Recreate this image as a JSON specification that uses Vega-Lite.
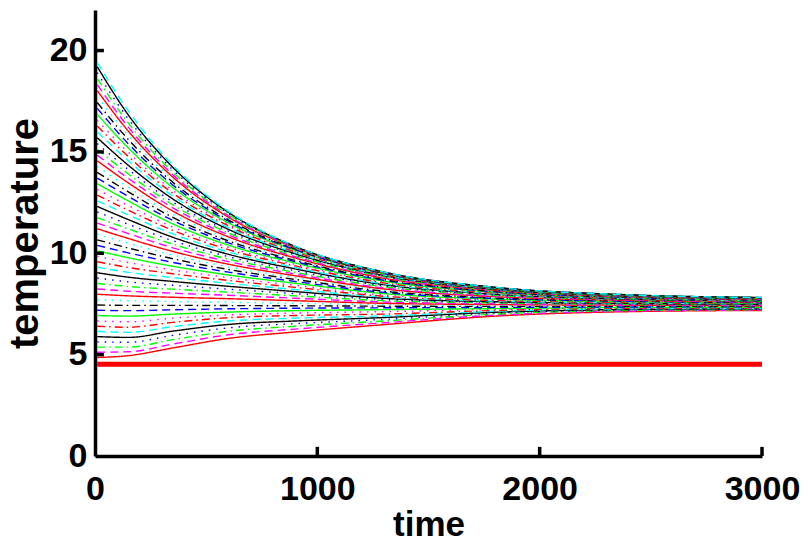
{
"$schema":"https://vega.github.io/schema/vega-lite/v6.json",
"width":667,"height":446,
"autosize":{"type":"none"},
"padding":{"left":95,"top":10,"right":46,"bottom":87},
"background":"white",
"config":{"view":{"stroke":null},
"axis":{"grid":false,"domainColor":"#000","domainWidth":3.5,"ticks":false,"labelFont":"Liberation Sans","labelFontWeight":"bold","labelFontSize":34,"labelColor":"#000","titleFont":"Liberation Sans","titleFontWeight":"bold","titleColor":"#000","labelOverlap":false,"labelBound":false,"labelFlush":false}},
"datasets":{
"base":[{"t":10,"v":4.52},{"t":3000,"v":4.52}],
"xticks":[{"t":1000},{"t":2000},{"t":3000}],
"yticks":[{"v":5},{"v":10},{"v":15},{"v":20}],
"curves":[
{"i":0,"t":10,"v":4.86},{"i":0,"t":150,"v":4.95},{"i":0,"t":350,"v":5.33},{"i":0,"t":600,"v":5.80},{"i":0,"t":900,"v":6.12},{"i":0,"t":1300,"v":6.48},{"i":0,"t":1800,"v":6.90},{"i":0,"t":2400,"v":7.12},{"i":0,"t":3000,"v":7.18},
{"i":1,"t":10,"v":5.12},{"i":1,"t":150,"v":5.14},{"i":1,"t":350,"v":5.52},{"i":1,"t":600,"v":5.98},{"i":1,"t":900,"v":6.26},{"i":1,"t":1300,"v":6.57},{"i":1,"t":1800,"v":6.95},{"i":1,"t":2400,"v":7.15},{"i":1,"t":3000,"v":7.20},
{"i":2,"t":10,"v":5.37},{"i":2,"t":150,"v":5.37},{"i":2,"t":350,"v":5.74},{"i":2,"t":600,"v":6.15},{"i":2,"t":900,"v":6.40},{"i":2,"t":1300,"v":6.66},{"i":2,"t":1800,"v":7.00},{"i":2,"t":2400,"v":7.18},{"i":2,"t":3000,"v":7.22},
{"i":3,"t":10,"v":5.63},{"i":3,"t":150,"v":5.61},{"i":3,"t":350,"v":5.95},{"i":3,"t":600,"v":6.32},{"i":3,"t":900,"v":6.53},{"i":3,"t":1300,"v":6.74},{"i":3,"t":1800,"v":7.05},{"i":3,"t":2400,"v":7.20},{"i":3,"t":3000,"v":7.24},
{"i":4,"t":10,"v":5.89},{"i":4,"t":150,"v":5.85},{"i":4,"t":350,"v":6.16},{"i":4,"t":600,"v":6.49},{"i":4,"t":900,"v":6.66},{"i":4,"t":1300,"v":6.83},{"i":4,"t":1800,"v":7.09},{"i":4,"t":2400,"v":7.23},{"i":4,"t":3000,"v":7.26},
{"i":5,"t":10,"v":6.15},{"i":5,"t":150,"v":6.10},{"i":5,"t":350,"v":6.38},{"i":5,"t":600,"v":6.66},{"i":5,"t":900,"v":6.80},{"i":5,"t":1300,"v":6.91},{"i":5,"t":1800,"v":7.14},{"i":5,"t":2400,"v":7.26},{"i":5,"t":3000,"v":7.28},
{"i":6,"t":10,"v":6.40},{"i":6,"t":150,"v":6.35},{"i":6,"t":350,"v":6.59},{"i":6,"t":600,"v":6.82},{"i":6,"t":900,"v":6.93},{"i":6,"t":1300,"v":7.00},{"i":6,"t":1800,"v":7.18},{"i":6,"t":2400,"v":7.29},{"i":6,"t":3000,"v":7.30},
{"i":7,"t":10,"v":6.66},{"i":7,"t":150,"v":6.62},{"i":7,"t":350,"v":6.80},{"i":7,"t":600,"v":6.96},{"i":7,"t":900,"v":7.05},{"i":7,"t":1300,"v":7.12},{"i":7,"t":1800,"v":7.23},{"i":7,"t":2400,"v":7.31},{"i":7,"t":3000,"v":7.32},
{"i":8,"t":10,"v":6.93},{"i":8,"t":150,"v":6.90},{"i":8,"t":350,"v":7.00},{"i":8,"t":600,"v":7.10},{"i":8,"t":900,"v":7.17},{"i":8,"t":1300,"v":7.22},{"i":8,"t":1800,"v":7.27},{"i":8,"t":2400,"v":7.33},{"i":8,"t":3000,"v":7.34},
{"i":9,"t":10,"v":7.19},{"i":9,"t":150,"v":7.17},{"i":9,"t":350,"v":7.21},{"i":9,"t":600,"v":7.26},{"i":9,"t":900,"v":7.29},{"i":9,"t":1300,"v":7.31},{"i":9,"t":1800,"v":7.33},{"i":9,"t":2400,"v":7.35},{"i":9,"t":3000,"v":7.36},
{"i":10,"t":10,"v":7.45},{"i":10,"t":150,"v":7.43},{"i":10,"t":350,"v":7.43},{"i":10,"t":600,"v":7.42},{"i":10,"t":900,"v":7.41},{"i":10,"t":1300,"v":7.39},{"i":10,"t":1800,"v":7.38},{"i":10,"t":2400,"v":7.38},{"i":10,"t":3000,"v":7.38},
{"i":11,"t":10,"v":7.71},{"i":11,"t":150,"v":7.66},{"i":11,"t":350,"v":7.62},{"i":11,"t":600,"v":7.58},{"i":11,"t":900,"v":7.53},{"i":11,"t":1300,"v":7.46},{"i":11,"t":1800,"v":7.42},{"i":11,"t":2400,"v":7.41},{"i":11,"t":3000,"v":7.40},
{"i":12,"t":10,"v":7.98},{"i":12,"t":150,"v":7.90},{"i":12,"t":350,"v":7.83},{"i":12,"t":600,"v":7.76},{"i":12,"t":900,"v":7.66},{"i":12,"t":1300,"v":7.53},{"i":12,"t":1800,"v":7.47},{"i":12,"t":2400,"v":7.44},{"i":12,"t":3000,"v":7.41},
{"i":13,"t":10,"v":8.24},{"i":13,"t":150,"v":8.13},{"i":13,"t":350,"v":8.03},{"i":13,"t":600,"v":7.93},{"i":13,"t":900,"v":7.78},{"i":13,"t":1300,"v":7.60},{"i":13,"t":1800,"v":7.51},{"i":13,"t":2400,"v":7.46},{"i":13,"t":3000,"v":7.43},
{"i":14,"t":10,"v":8.51},{"i":14,"t":150,"v":8.36},{"i":14,"t":350,"v":8.23},{"i":14,"t":600,"v":8.08},{"i":14,"t":900,"v":7.90},{"i":14,"t":1300,"v":7.66},{"i":14,"t":1800,"v":7.55},{"i":14,"t":2400,"v":7.48},{"i":14,"t":3000,"v":7.45},
{"i":15,"t":10,"v":8.78},{"i":15,"t":150,"v":8.59},{"i":15,"t":350,"v":8.42},{"i":15,"t":600,"v":8.23},{"i":15,"t":900,"v":8.01},{"i":15,"t":1300,"v":7.72},{"i":15,"t":1800,"v":7.58},{"i":15,"t":2400,"v":7.50},{"i":15,"t":3000,"v":7.46},
{"i":16,"t":10,"v":9.04},{"i":16,"t":150,"v":8.82},{"i":16,"t":350,"v":8.61},{"i":16,"t":600,"v":8.37},{"i":16,"t":900,"v":8.11},{"i":16,"t":1300,"v":7.78},{"i":16,"t":1800,"v":7.61},{"i":16,"t":2400,"v":7.53},{"i":16,"t":3000,"v":7.48},
{"i":17,"t":10,"v":9.31},{"i":17,"t":150,"v":9.06},{"i":17,"t":350,"v":8.80},{"i":17,"t":600,"v":8.52},{"i":17,"t":900,"v":8.21},{"i":17,"t":1300,"v":7.84},{"i":17,"t":1800,"v":7.64},{"i":17,"t":2400,"v":7.55},{"i":17,"t":3000,"v":7.50},
{"i":18,"t":10,"v":9.58},{"i":18,"t":150,"v":9.30},{"i":18,"t":350,"v":8.99},{"i":18,"t":600,"v":8.66},{"i":18,"t":900,"v":8.32},{"i":18,"t":1300,"v":7.88},{"i":18,"t":1800,"v":7.67},{"i":18,"t":2400,"v":7.57},{"i":18,"t":3000,"v":7.51},
{"i":19,"t":10,"v":9.85},{"i":19,"t":150,"v":9.54},{"i":19,"t":350,"v":9.18},{"i":19,"t":600,"v":8.80},{"i":19,"t":900,"v":8.42},{"i":19,"t":1300,"v":7.94},{"i":19,"t":1800,"v":7.70},{"i":19,"t":2400,"v":7.59},{"i":19,"t":3000,"v":7.53},
{"i":20,"t":10,"v":10.12},{"i":20,"t":150,"v":9.78},{"i":20,"t":350,"v":9.36},{"i":20,"t":600,"v":8.93},{"i":20,"t":900,"v":8.52},{"i":20,"t":1300,"v":8.01},{"i":20,"t":1800,"v":7.74},{"i":20,"t":2400,"v":7.61},{"i":20,"t":3000,"v":7.54},
{"i":21,"t":10,"v":10.39},{"i":21,"t":150,"v":10.02},{"i":21,"t":350,"v":9.55},{"i":21,"t":600,"v":9.07},{"i":21,"t":900,"v":8.61},{"i":21,"t":1300,"v":8.07},{"i":21,"t":1800,"v":7.77},{"i":21,"t":2400,"v":7.63},{"i":21,"t":3000,"v":7.56},
{"i":22,"t":10,"v":10.66},{"i":22,"t":150,"v":10.26},{"i":22,"t":350,"v":9.73},{"i":22,"t":600,"v":9.20},{"i":22,"t":900,"v":8.71},{"i":22,"t":1300,"v":8.13},{"i":22,"t":1800,"v":7.80},{"i":22,"t":2400,"v":7.65},{"i":22,"t":3000,"v":7.57},
{"i":23,"t":10,"v":10.94},{"i":23,"t":150,"v":10.50},{"i":23,"t":350,"v":9.91},{"i":23,"t":600,"v":9.33},{"i":23,"t":900,"v":8.80},{"i":23,"t":1300,"v":8.18},{"i":23,"t":1800,"v":7.83},{"i":23,"t":2400,"v":7.67},{"i":23,"t":3000,"v":7.59},
{"i":24,"t":10,"v":11.21},{"i":24,"t":150,"v":10.73},{"i":24,"t":350,"v":10.09},{"i":24,"t":600,"v":9.46},{"i":24,"t":900,"v":8.89},{"i":24,"t":1300,"v":8.24},{"i":24,"t":1800,"v":7.86},{"i":24,"t":2400,"v":7.68},{"i":24,"t":3000,"v":7.60},
{"i":25,"t":10,"v":11.49},{"i":25,"t":150,"v":10.97},{"i":25,"t":350,"v":10.27},{"i":25,"t":600,"v":9.59},{"i":25,"t":900,"v":8.98},{"i":25,"t":1300,"v":8.29},{"i":25,"t":1800,"v":7.89},{"i":25,"t":2400,"v":7.70},{"i":25,"t":3000,"v":7.61},
{"i":26,"t":10,"v":11.76},{"i":26,"t":150,"v":11.20},{"i":26,"t":350,"v":10.45},{"i":26,"t":600,"v":9.71},{"i":26,"t":900,"v":9.06},{"i":26,"t":1300,"v":8.35},{"i":26,"t":1800,"v":7.92},{"i":26,"t":2400,"v":7.72},{"i":26,"t":3000,"v":7.63},
{"i":27,"t":10,"v":12.04},{"i":27,"t":150,"v":11.43},{"i":27,"t":350,"v":10.62},{"i":27,"t":600,"v":9.83},{"i":27,"t":900,"v":9.14},{"i":27,"t":1300,"v":8.40},{"i":27,"t":1800,"v":7.95},{"i":27,"t":2400,"v":7.73},{"i":27,"t":3000,"v":7.64},
{"i":28,"t":10,"v":12.31},{"i":28,"t":150,"v":11.66},{"i":28,"t":350,"v":10.79},{"i":28,"t":600,"v":9.95},{"i":28,"t":900,"v":9.23},{"i":28,"t":1300,"v":8.45},{"i":28,"t":1800,"v":7.98},{"i":28,"t":2400,"v":7.75},{"i":28,"t":3000,"v":7.65},
{"i":29,"t":10,"v":12.59},{"i":29,"t":150,"v":11.89},{"i":29,"t":350,"v":10.96},{"i":29,"t":600,"v":10.06},{"i":29,"t":900,"v":9.30},{"i":29,"t":1300,"v":8.49},{"i":29,"t":1800,"v":8.00},{"i":29,"t":2400,"v":7.77},{"i":29,"t":3000,"v":7.66},
{"i":30,"t":10,"v":12.87},{"i":30,"t":150,"v":12.12},{"i":30,"t":350,"v":11.13},{"i":30,"t":600,"v":10.18},{"i":30,"t":900,"v":9.38},{"i":30,"t":1300,"v":8.54},{"i":30,"t":1800,"v":8.03},{"i":30,"t":2400,"v":7.78},{"i":30,"t":3000,"v":7.67},
{"i":31,"t":10,"v":13.15},{"i":31,"t":150,"v":12.35},{"i":31,"t":350,"v":11.29},{"i":31,"t":600,"v":10.29},{"i":31,"t":900,"v":9.45},{"i":31,"t":1300,"v":8.58},{"i":31,"t":1800,"v":8.05},{"i":31,"t":2400,"v":7.79},{"i":31,"t":3000,"v":7.68},
{"i":32,"t":10,"v":13.43},{"i":32,"t":150,"v":12.58},{"i":32,"t":350,"v":11.45},{"i":32,"t":600,"v":10.40},{"i":32,"t":900,"v":9.52},{"i":32,"t":1300,"v":8.62},{"i":32,"t":1800,"v":8.08},{"i":32,"t":2400,"v":7.81},{"i":32,"t":3000,"v":7.69},
{"i":33,"t":10,"v":13.71},{"i":33,"t":150,"v":12.80},{"i":33,"t":350,"v":11.62},{"i":33,"t":600,"v":10.51},{"i":33,"t":900,"v":9.59},{"i":33,"t":1300,"v":8.67},{"i":33,"t":1800,"v":8.10},{"i":33,"t":2400,"v":7.82},{"i":33,"t":3000,"v":7.70},
{"i":34,"t":10,"v":13.99},{"i":34,"t":150,"v":13.03},{"i":34,"t":350,"v":11.77},{"i":34,"t":600,"v":10.61},{"i":34,"t":900,"v":9.65},{"i":34,"t":1300,"v":8.70},{"i":34,"t":1800,"v":8.12},{"i":34,"t":2400,"v":7.83},{"i":34,"t":3000,"v":7.71},
{"i":35,"t":10,"v":14.28},{"i":35,"t":150,"v":13.25},{"i":35,"t":350,"v":11.93},{"i":35,"t":600,"v":10.71},{"i":35,"t":900,"v":9.71},{"i":35,"t":1300,"v":8.74},{"i":35,"t":1800,"v":8.14},{"i":35,"t":2400,"v":7.84},{"i":35,"t":3000,"v":7.72},
{"i":36,"t":10,"v":14.56},{"i":36,"t":150,"v":13.47},{"i":36,"t":350,"v":12.08},{"i":36,"t":600,"v":10.81},{"i":36,"t":900,"v":9.77},{"i":36,"t":1300,"v":8.77},{"i":36,"t":1800,"v":8.16},{"i":36,"t":2400,"v":7.86},{"i":36,"t":3000,"v":7.73},
{"i":37,"t":10,"v":14.84},{"i":37,"t":150,"v":13.69},{"i":37,"t":350,"v":12.24},{"i":37,"t":600,"v":10.91},{"i":37,"t":900,"v":9.83},{"i":37,"t":1300,"v":8.81},{"i":37,"t":1800,"v":8.18},{"i":37,"t":2400,"v":7.87},{"i":37,"t":3000,"v":7.74},
{"i":38,"t":10,"v":15.13},{"i":38,"t":150,"v":13.91},{"i":38,"t":350,"v":12.39},{"i":38,"t":600,"v":11.00},{"i":38,"t":900,"v":9.88},{"i":38,"t":1300,"v":8.84},{"i":38,"t":1800,"v":8.19},{"i":38,"t":2400,"v":7.88},{"i":38,"t":3000,"v":7.75},
{"i":39,"t":10,"v":15.41},{"i":39,"t":150,"v":14.13},{"i":39,"t":350,"v":12.53},{"i":39,"t":600,"v":11.09},{"i":39,"t":900,"v":9.94},{"i":39,"t":1300,"v":8.87},{"i":39,"t":1800,"v":8.21},{"i":39,"t":2400,"v":7.89},{"i":39,"t":3000,"v":7.76},
{"i":40,"t":10,"v":15.70},{"i":40,"t":150,"v":14.34},{"i":40,"t":350,"v":12.68},{"i":40,"t":600,"v":11.18},{"i":40,"t":900,"v":9.98},{"i":40,"t":1300,"v":8.90},{"i":40,"t":1800,"v":8.22},{"i":40,"t":2400,"v":7.89},{"i":40,"t":3000,"v":7.76},
{"i":41,"t":10,"v":15.99},{"i":41,"t":150,"v":14.56},{"i":41,"t":350,"v":12.82},{"i":41,"t":600,"v":11.26},{"i":41,"t":900,"v":10.03},{"i":41,"t":1300,"v":8.92},{"i":41,"t":1800,"v":8.24},{"i":41,"t":2400,"v":7.90},{"i":41,"t":3000,"v":7.77},
{"i":42,"t":10,"v":16.28},{"i":42,"t":150,"v":14.77},{"i":42,"t":350,"v":12.96},{"i":42,"t":600,"v":11.35},{"i":42,"t":900,"v":10.07},{"i":42,"t":1300,"v":8.94},{"i":42,"t":1800,"v":8.25},{"i":42,"t":2400,"v":7.91},{"i":42,"t":3000,"v":7.78},
{"i":43,"t":10,"v":16.56},{"i":43,"t":150,"v":14.98},{"i":43,"t":350,"v":13.10},{"i":43,"t":600,"v":11.43},{"i":43,"t":900,"v":10.11},{"i":43,"t":1300,"v":8.97},{"i":43,"t":1800,"v":8.26},{"i":43,"t":2400,"v":7.92},{"i":43,"t":3000,"v":7.78},
{"i":44,"t":10,"v":16.85},{"i":44,"t":150,"v":15.19},{"i":44,"t":350,"v":13.24},{"i":44,"t":600,"v":11.50},{"i":44,"t":900,"v":10.15},{"i":44,"t":1300,"v":8.99},{"i":44,"t":1800,"v":8.27},{"i":44,"t":2400,"v":7.92},{"i":44,"t":3000,"v":7.79},
{"i":45,"t":10,"v":17.15},{"i":45,"t":150,"v":15.40},{"i":45,"t":350,"v":13.37},{"i":45,"t":600,"v":11.58},{"i":45,"t":900,"v":10.18},{"i":45,"t":1300,"v":9.00},{"i":45,"t":1800,"v":8.28},{"i":45,"t":2400,"v":7.93},{"i":45,"t":3000,"v":7.79},
{"i":46,"t":10,"v":17.44},{"i":46,"t":150,"v":15.61},{"i":46,"t":350,"v":13.50},{"i":46,"t":600,"v":11.65},{"i":46,"t":900,"v":10.21},{"i":46,"t":1300,"v":9.02},{"i":46,"t":1800,"v":8.29},{"i":46,"t":2400,"v":7.93},{"i":46,"t":3000,"v":7.80},
{"i":47,"t":10,"v":17.73},{"i":47,"t":150,"v":15.81},{"i":47,"t":350,"v":13.63},{"i":47,"t":600,"v":11.72},{"i":47,"t":900,"v":10.24},{"i":47,"t":1300,"v":9.03},{"i":47,"t":1800,"v":8.30},{"i":47,"t":2400,"v":7.94},{"i":47,"t":3000,"v":7.80},
{"i":48,"t":10,"v":18.02},{"i":48,"t":150,"v":16.02},{"i":48,"t":350,"v":13.76},{"i":48,"t":600,"v":11.78},{"i":48,"t":900,"v":10.27},{"i":48,"t":1300,"v":9.04},{"i":48,"t":1800,"v":8.31},{"i":48,"t":2400,"v":7.94},{"i":48,"t":3000,"v":7.81},
{"i":49,"t":10,"v":18.32},{"i":49,"t":150,"v":16.22},{"i":49,"t":350,"v":13.88},{"i":49,"t":600,"v":11.85},{"i":49,"t":900,"v":10.29},{"i":49,"t":1300,"v":9.05},{"i":49,"t":1800,"v":8.31},{"i":49,"t":2400,"v":7.94},{"i":49,"t":3000,"v":7.81},
{"i":50,"t":10,"v":18.61},{"i":50,"t":150,"v":16.42},{"i":50,"t":350,"v":14.00},{"i":50,"t":600,"v":11.91},{"i":50,"t":900,"v":10.31},{"i":50,"t":1300,"v":9.06},{"i":50,"t":1800,"v":8.31},{"i":50,"t":2400,"v":7.95},{"i":50,"t":3000,"v":7.81},
{"i":51,"t":10,"v":18.91},{"i":51,"t":150,"v":16.62},{"i":51,"t":350,"v":14.12},{"i":51,"t":600,"v":11.96},{"i":51,"t":900,"v":10.33},{"i":51,"t":1300,"v":9.07},{"i":51,"t":1800,"v":8.32},{"i":51,"t":2400,"v":7.95},{"i":51,"t":3000,"v":7.82},
{"i":52,"t":10,"v":19.20},{"i":52,"t":150,"v":16.82},{"i":52,"t":350,"v":14.24},{"i":52,"t":600,"v":12.02},{"i":52,"t":900,"v":10.34},{"i":52,"t":1300,"v":9.07},{"i":52,"t":1800,"v":8.32},{"i":52,"t":2400,"v":7.95},{"i":52,"t":3000,"v":7.82},
{"i":53,"t":10,"v":19.40},{"i":53,"t":150,"v":17.02},{"i":53,"t":350,"v":14.35},{"i":53,"t":600,"v":12.07},{"i":53,"t":900,"v":10.35},{"i":53,"t":1300,"v":9.07},{"i":53,"t":1800,"v":8.32},{"i":53,"t":2400,"v":7.95},{"i":53,"t":3000,"v":7.82}
]},
"layer":[
{"data":{"name":"curves"},
"mark":{"type":"line","strokeWidth":1.4,"interpolate":"monotone"},
"encoding":{
"x":{"field":"t","type":"quantitative","scale":{"domain":[0,3000],"nice":false,"zero":false},"axis":{"values":[0,1000,2000,3000],"format":"d","title":"time","titleFontSize":35,"labelPadding":16,"titlePadding":1}},
"y":{"field":"v","type":"quantitative","scale":{"domain":[0,22],"nice":false},"axis":{"values":[0,5,10,15,20],"format":"d","title":"temperature","titleFontSize":40,"labelPadding":8,"titlePadding":4}},
"color":{"field":"i","type":"nominal","scale":{"domain":[0,1,2,3,4,5,6,7,8,9,10,11,12,13,14,15,16,17,18,19,20,21,22,23,24,25,26,27,28,29,30,31,32,33,34,35,36,37,38,39,40,41,42,43,44,45,46,47,48,49,50,51,52,53],"range":["#ff0000","#ff00ff","#00ff00","#0000ff","#000000","#00ffff"]},"legend":null},
"strokeDash":{"field":"i","type":"nominal","scale":{"domain":[0,1,2,3,4,5,6,7,8,9,10,11,12,13,14,15,16,17,18,19,20,21,22,23,24,25,26,27,28,29,30,31,32,33,34,35,36,37,38,39,40,41,42,43,44,45,46,47,48,49,50,51,52,53],"range":[[1,0],[8,5],[8,4,1.5,4],[1.5,6]]},"legend":null}
}},
{"data":{"name":"base"},
"mark":{"type":"line","color":"#ff0000","strokeWidth":5},
"encoding":{"x":{"field":"t","type":"quantitative"},"y":{"field":"v","type":"quantitative"}}},
{"data":{"name":"xticks"},
"mark":{"type":"rule","color":"#000","strokeWidth":3.5},
"encoding":{"x":{"field":"t","type":"quantitative"},"y":{"datum":0},"y2":{"datum":0.45}}},
{"data":{"name":"yticks"},
"mark":{"type":"rule","color":"#000","strokeWidth":3.5},
"encoding":{"y":{"field":"v","type":"quantitative"},"x":{"datum":0},"x2":{"datum":40}}}
]
}
